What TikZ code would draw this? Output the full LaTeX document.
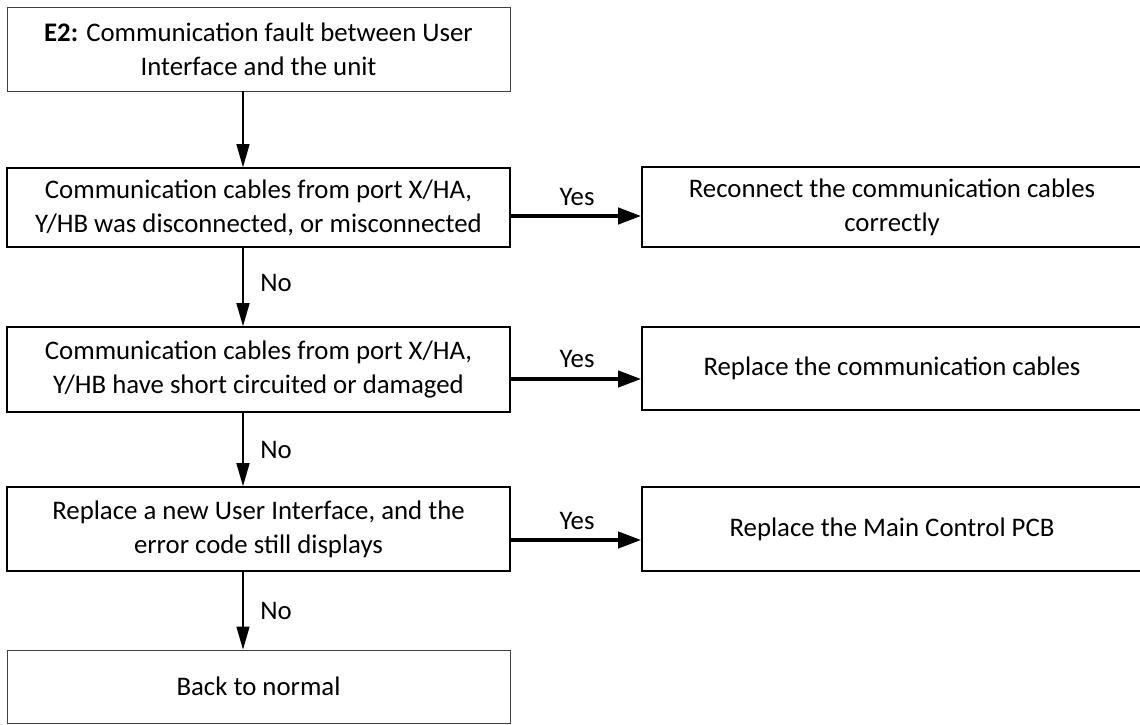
\documentclass[tikz,border=0pt]{standalone}
\usepackage{fontspec}
\setmainfont{Carlito}
\usetikzlibrary{arrows.meta}
\begin{document}
\begin{tikzpicture}[x=1pt,y=1pt,
  every node/.style={font=\fontsize{26.8}{34}\selectfont},
  box/.style={draw=black, line width=1.6pt, inner sep=0pt, align=center},
  thinbox/.style={draw=black!75, line width=0.9pt, inner sep=0pt, align=center},
  downarrow/.style={line width=1.4pt, -{Triangle[length=23pt,width=13pt]}},
  yesarrow/.style={line width=4pt, -{Triangle[length=23pt,width=16pt]}},
  lbl/.style={inner sep=0pt}
]
\useasboundingbox (0,0) rectangle (1140,-725);
\fill[white] (0,0) rectangle (1140,-725);
% left column
\node[thinbox, minimum width=503pt, minimum height=84pt] (b1) at (258.5,-49)
  {\textbf{E2:} Communication fault between User\\Interface and the unit};
\node[box, minimum width=503pt, minimum height=79pt] (b2) at (258.5,-207.5)
  {Communication cables from port X/HA,\\Y/HB was disconnected, or misconnected};
\node[box, minimum width=503pt, minimum height=85pt] (b3) at (258.5,-369.5)
  {Communication cables from port X/HA,\\Y/HB have short circuited or damaged};
\node[box, minimum width=503pt, minimum height=84pt] (b4) at (258.5,-529)
  {Replace a new User Interface, and the\\error code still displays};
\node[thinbox, minimum width=503pt, minimum height=73pt] (b5) at (258.5,-686.5)
  {Back to normal};
% right column
\node[box, minimum width=500pt, minimum height=80pt] (r1) at (892,-207)
  {Reconnect the communication cables\\correctly};
\node[box, minimum width=500pt, minimum height=83pt] (r2) at (892,-368.5)
  {Replace the communication cables};
\node[box, minimum width=500pt, minimum height=84pt] (r3) at (892,-529)
  {Replace the Main Control PCB};
% down arrows
\coordinate (ax) at (243,0);
\draw[downarrow] (b1.south -| ax) -- (b2.north -| ax);
\draw[downarrow] (b2.south -| ax) -- (b3.north -| ax);
\draw[downarrow] (b3.south -| ax) -- (b4.north -| ax);
\draw[downarrow] (b4.south -| ax) -- (b5.north -| ax);
\node[lbl] (n1) at (276,-283) {No};
\node[lbl] (n2) at (276,-450) {No};
\node[lbl] (n3) at (276,-611) {No};
% yes arrows
\draw[yesarrow] ([yshift=-8.5pt]b2.east) -- ([yshift=-8.5pt]b2.east -| r1.west);
\draw[yesarrow] ([yshift=-9.5pt]b3.east) -- ([yshift=-9.5pt]b3.east -| r2.west);
\draw[yesarrow] ([yshift=-11pt]b4.east) -- ([yshift=-11pt]b4.east -| r3.west);
\node[lbl] (y1) at (577,-197) {Yes};
\node[lbl] (y2) at (577,-359) {Yes};
\node[lbl] (y3) at (577,-521) {Yes};
\end{tikzpicture}
\end{document}
